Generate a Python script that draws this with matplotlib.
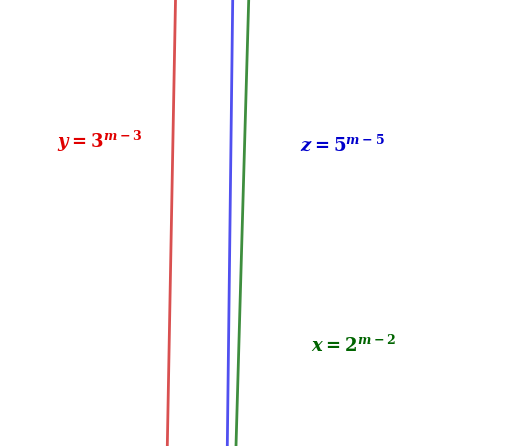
import matplotlib.pyplot as plt

plt.rcParams["mathtext.fontset"] = "custom"
plt.rcParams["mathtext.rm"] = "DejaVu Serif:bold"
plt.rcParams["mathtext.it"] = "DejaVu Serif:italic:bold"
plt.rcParams["mathtext.bf"] = "DejaVu Serif:bold"

# line ends (x at top edge, x at bottom edge)
rows = [0, 446]
red_x = [175.5, 167.3]
blue_x = [232.7, 227.3]
green_x = [248.7, 236.0]

labels = [r"$y = 3^{m-3}$", r"$z = 5^{m-5}$", r"$x = 2^{m-2}$"]
label_pos = [(57, 141), (300, 144), (311, 345)]
label_colors = ["#e00000", "#0000cc", "#006400"]

fig = plt.figure(figsize=(5.24, 4.46), dpi=100)
ax = fig.add_axes([0, 0, 1, 1])
ax.set_xlim(0, 524)
ax.set_ylim(446, 0)
ax.axis("off")

ax.plot(red_x, rows, color="#d95050", linewidth=2.0)
ax.plot(blue_x, rows, color="#5050f0", linewidth=2.0)
ax.plot(green_x, rows, color="#3e8e3e", linewidth=2.0)

for lab, (x, y), c in zip(labels, label_pos, label_colors):
    ax.text(x, y, lab, color=c, fontsize=13, ha="left", va="center")

fig.savefig("out.png", dpi=100)
